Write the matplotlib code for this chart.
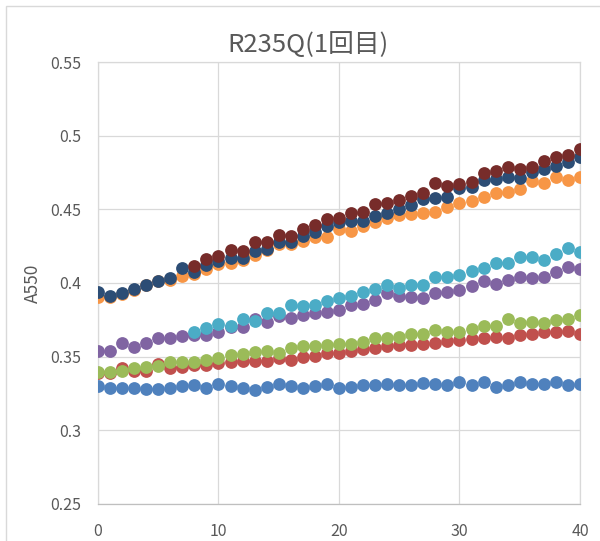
import matplotlib
matplotlib.use("Agg")
import matplotlib.pyplot as plt
from matplotlib.patches import Rectangle
import numpy as np

plt.rcParams['font.family'] = ['Noto Sans CJK JP', 'DejaVu Sans']

# sampling points (0..40)
x_all = list(range(41))
x_late = list(range(8, 41))

blue = [0.330, 0.329, 0.329, 0.3284, 0.3278, 0.3278, 0.3284, 0.330, 0.3305, 0.329,
        0.3312, 0.330, 0.329, 0.3274, 0.3296, 0.3312, 0.330, 0.329, 0.330, 0.3312,
        0.329, 0.3296, 0.3307, 0.3307, 0.3312, 0.3307, 0.331, 0.332, 0.3317, 0.3306,
        0.3326, 0.331, 0.3328, 0.3294, 0.331, 0.3328, 0.3317, 0.3317, 0.3328, 0.331,
        0.3317]
red = [0.3386, 0.3391, 0.342, 0.3405, 0.3405, 0.3448, 0.342, 0.3432, 0.3443, 0.3443,
       0.3455, 0.3466, 0.347, 0.3467, 0.3467, 0.3489, 0.3478, 0.350, 0.3505, 0.3523,
       0.3523, 0.3535, 0.355, 0.3557, 0.3569, 0.358, 0.358, 0.3586, 0.359, 0.3608,
       0.3612, 0.3617, 0.3624, 0.363, 0.3624, 0.3646, 0.3657, 0.3668, 0.3668, 0.3675,
       0.3657]
green = [0.3395, 0.3395, 0.3404, 0.342, 0.343, 0.3434, 0.3465, 0.3466, 0.3466, 0.348,
         0.349, 0.351, 0.3515, 0.353, 0.3535, 0.3528, 0.3557, 0.3569, 0.3569, 0.358,
         0.3587, 0.3587, 0.3596, 0.3625, 0.3625, 0.3632, 0.3653, 0.3657, 0.3684, 0.3668,
         0.3668, 0.3691, 0.3707, 0.3707, 0.3758, 0.3729, 0.3736, 0.3729, 0.3751, 0.3758,
         0.378]
purple = [0.3541, 0.3541, 0.3591, 0.3568, 0.3591, 0.3629, 0.3629, 0.3641, 0.3645, 0.3645,
          0.367, 0.3704, 0.3704, 0.3755, 0.3732, 0.3773, 0.3762, 0.378, 0.3796, 0.3802,
          0.3818, 0.3852, 0.3859, 0.3886, 0.3932, 0.3909, 0.3905, 0.3899, 0.3933, 0.3937,
          0.3953, 0.3982, 0.4011, 0.3993, 0.402, 0.4043, 0.4034, 0.4043, 0.4078, 0.411,
          0.4094]
cyan = [0.3666, 0.3693, 0.3723, 0.3709, 0.3757, 0.3745, 0.3796, 0.3796, 0.3852, 0.3846,
        0.3852, 0.3875, 0.3898, 0.3909, 0.3936, 0.3961, 0.3989, 0.3966, 0.3985, 0.3989,
        0.4043, 0.4038, 0.4054, 0.4083, 0.4101, 0.4139, 0.4139, 0.4177, 0.4177, 0.4155,
        0.4195, 0.4235, 0.4211]
orange = [0.3908, 0.3908, 0.3927, 0.3954, 0.3984, 0.4014, 0.4023, 0.4046, 0.4064, 0.4092,
          0.4128, 0.4137, 0.4156, 0.419, 0.4227, 0.4265, 0.4265, 0.4287, 0.431, 0.431,
          0.4366, 0.4354, 0.4388, 0.4415, 0.4444, 0.446, 0.447, 0.4477, 0.4484, 0.4514,
          0.4545, 0.4559, 0.4586, 0.4608, 0.462, 0.4636, 0.4694, 0.4681, 0.4717, 0.4699,
          0.4717]
darkblue = [0.3938, 0.3915, 0.3934, 0.3961, 0.3984, 0.4014, 0.4037, 0.4105, 0.4076, 0.4121,
            0.4151, 0.4167, 0.4167, 0.422, 0.4231, 0.4276, 0.4276, 0.4316, 0.4343, 0.4388,
            0.4415, 0.4422, 0.4422, 0.4455, 0.4478, 0.450, 0.453, 0.4568, 0.4575, 0.4586,
            0.4642, 0.4654, 0.4699, 0.4703, 0.4717, 0.471, 0.4755, 0.4771, 0.4794, 0.4823,
            0.4853]
darkred = [0.4115, 0.416, 0.4183, 0.4224, 0.4218, 0.428, 0.428, 0.4325, 0.4321, 0.437,
           0.4392, 0.4433, 0.4444, 0.4473, 0.4482, 0.4534, 0.4545, 0.4563, 0.4592, 0.4613,
           0.4681, 0.4658, 0.4672, 0.4688, 0.4744, 0.4762, 0.4789, 0.4771, 0.4789, 0.483,
           0.4857, 0.4868, 0.4907]

series = [
    (x_all, blue, "#4F81BD"),
    (x_all, red, "#C0504D"),
    (x_all, green, "#9BBB59"),
    (x_all, purple, "#8064A2"),
    (x_late, cyan, "#4BACC6"),
    (x_all, orange, "#F79646"),
    (x_all, darkblue, "#2C4D75"),
    (x_late, darkred, "#772C2A"),
]

fig = plt.figure(figsize=(6, 5.41), dpi=100)
ax = fig.add_axes([0.1633, 0.0686, 0.8033, 0.8166])

for xs, ys, c in series:
    ax.plot(xs, ys, linestyle="none", marker="o", ms=9.2, mew=0, color=c, zorder=3)

ax.set_xlim(0, 40)
ax.set_ylim(0.25, 0.55)
ax.set_xticks([0, 10, 20, 30, 40])
ax.set_yticks([0.25, 0.3, 0.35, 0.4, 0.45, 0.5, 0.55])
ax.set_yticklabels(["0.25", "0.3", "0.35", "0.4", "0.45", "0.5", "0.55"])
ax.grid(True, color="#D9D9D9", linewidth=0.9, zorder=0)
ax.set_axisbelow(True)
for s in ax.spines.values():
    s.set_color("#D9D9D9")
    s.set_linewidth(0.9)
ax.spines["bottom"].set_color("#BFBFBF")
ax.tick_params(length=0, labelsize=11.5, colors="#595959", pad=12)
ax.tick_params(axis="x", pad=14)

ax.set_ylabel("A550", fontsize=12.5, color="#595959", labelpad=6)
fig.text(0.513, 0.917, "R235Q(1回目)", ha="center", va="center",
         fontsize=18.5, color="#595959")

# chart area border (cropped at right and bottom)
fig.patches.append(Rectangle((5.5 / 600, -0.1), 1.2, 1 - 5.5 / 541 + 0.1,
                             transform=fig.transFigure, fill=False,
                             edgecolor="#D9D9D9", linewidth=1.0))

fig.savefig("out.png", dpi=100)
